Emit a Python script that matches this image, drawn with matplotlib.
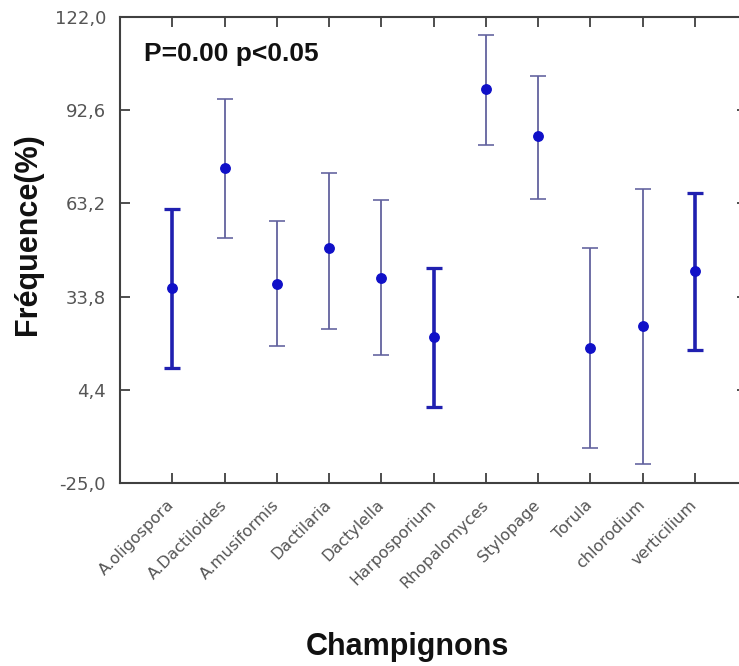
import matplotlib.pyplot as plt
from matplotlib.ticker import FixedLocator, FuncFormatter

plt.rcParams['font.family'] = ['Liberation Sans', 'DejaVu Sans']

# means with lower / upper bounds of the interval
champignons = ['A.oligospora', 'A.Dactiloides', 'A.musiformis', 'Dactilaria',
               'Dactylella', 'Harposporium', 'Rhopalomyces', 'Stylopage',
               'Torula', 'chlorodium', 'verticilium']
moyennes = [36.6, 74.5, 37.9, 49.0, 39.8, 21.0, 99.2, 84.5, 17.5, 24.5, 41.9]
bornes_inf = [11.4, 52.4, 18.2, 23.5, 15.4, -0.9, 81.6, 64.5, -14.0, -19.1, 17.0]
bornes_sup = [61.4, 96.0, 57.6, 72.7, 64.3, 42.7, 116.3, 103.5, 49.1, 67.7, 66.6]
epais = [True, False, False, False, False, True, False, False, False, False, True]
yticks = [-25.0, 4.4, 33.8, 63.2, 92.6, 122.0]

fig = plt.figure(figsize=(7.39, 6.66), dpi=100)
ax = fig.add_axes([120 / 739, 1 - 483 / 666, 627 / 739, 466 / 666])

for i, (m, lo, hi, th) in enumerate(zip(moyennes, bornes_inf, bornes_sup, epais)):
    x = i + 1
    col = '#2020b0' if th else '#62629e'
    lw = 2.6 if th else 1.3
    ax.errorbar([x], [m], yerr=[[m - lo], [hi - m]], fmt='none',
                ecolor=col, elinewidth=lw, capsize=5.5, capthick=lw * 0.9, zorder=2)
    ax.plot([x], [m], 'o', color='#1010c8', markersize=6.8, zorder=3)

ax.set_xlim(0, 12)
ax.set_ylim(-25, 122)
ax.xaxis.set_major_locator(FixedLocator(range(1, len(champignons) + 1)))
ax.set_xticklabels(champignons, rotation=45, ha='right', va='center',
                   rotation_mode='anchor', fontsize=11.5, color='#555555',
                   family='DejaVu Sans')
ax.yaxis.set_major_locator(FixedLocator(yticks))
ax.yaxis.set_major_formatter(FuncFormatter(lambda v, p: f'{v:.1f}'.replace('.', ',')))
ax.tick_params(axis='both', direction='in', length=7, width=1.3, color='#404040',
               top=True, right=True)
ax.tick_params(axis='x', pad=14)
ax.tick_params(axis='y', pad=10, labelsize=13, labelcolor='#555555')
for lab in ax.get_yticklabels():
    lab.set_family('DejaVu Sans')
for s in ax.spines.values():
    s.set_color('#404040')
    s.set_linewidth(1.5)

fig.text(28 / 739, 1 - 234 / 666, 'Fréquence(%)', rotation=90, fontsize=22,
         fontweight='bold', ha='center', va='center', color='#111111')
fig.text(407 / 739, 1 - 655 / 666, 'Champignons', fontsize=22, fontweight='bold',
         ha='center', va='baseline', color='#111111')
fig.text(144 / 739, 1 - 54 / 666, 'P=0.00 p<0.05', fontsize=19, fontweight='bold',
         ha='left', va='center', color='#111111')

fig.savefig('out.png', dpi=100)
